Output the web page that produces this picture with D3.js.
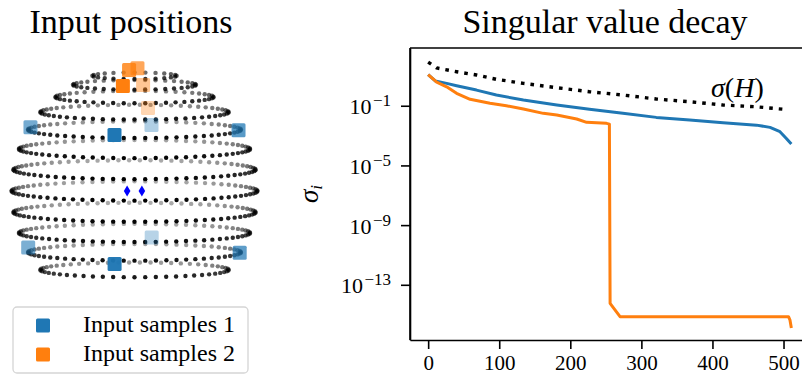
<!DOCTYPE html>
<meta charset="utf-8">
<style>
  body { margin: 0; background: #fff; }
  text { font-family: "Liberation Serif", serif; fill: #000; }
  .tick text { font-size: 22px; }
  .axis path, .axis line { stroke: #000; stroke-width: 1.6; }
</style>
<svg width="802" height="377"></svg>
<script src="https://cdn.jsdelivr.net/npm/d3@7/dist/d3.min.js"></script>
<script>

// measurement grid: one ring per elevation (degrees), points per ring
var ringElev = [70, 60, 50, 40, 30, 20, 10, 0, -10, -20, -30, -40];
var ringCount = [24, 36, 46, 55, 62, 68, 71, 72, 71, 68, 62, 55];

// input samples, [azimuth, elevation] in degrees
var samples1 = [[-11, 31.5], [-101, 30.5], [79, 30.5], [171, 28], [-11, -32], [-101, -28.3], [79, -29.4], [171, -26.7]];
var samples2 = [[-12, 63], [-25, 84], [170, 82], [173, 55], [172, 38]];
// ears, cartesian (x right, y front, z up), unit sphere radius
var ears = [[-0.06, 0, 0], [0.06, 0, 0]];

// singular values, index -> sigma
var idxH = [0, 12, 40, 68, 96, 134, 181, 227, 274, 321, 368, 415, 462, 505];
var sigmaH = [85.1, 33.9, 19.1, 11.5, 5.89, 3.16, 1.62, 0.871, 0.525, 0.282, 0.186, 0.112, 0.0851, 0.055];

var idx1 = [0, 10, 26, 40, 68, 96, 134, 181, 227, 274, 321, 368, 415, 462, 481, 495, 504, 511];
var sigma1 = [12.0, 4.57, 3.16, 2.19, 1.12, 0.525, 0.24, 0.111, 0.0575, 0.0309, 0.0166, 0.011, 0.00724, 0.00501, 0.00355, 0.00182, 0.000646, 0.000269];

var idx2 = [0, 12, 26, 40, 59, 87, 110, 134, 162, 181, 209, 223, 251, 255, 256, 270, 507, 509, 511];
var sigma2 = [12.0, 3.8, 1.86, 0.676, 0.269, 0.145, 0.1, 0.0603, 0.0309, 0.024, 0.0129, 0.00776, 0.00661, 0.00589, 5.75e-15, 7.24e-16, 7.24e-16, 4.47e-16, 1.26e-16];

var xTicks = [0, 100, 200, 300, 400, 500];
var yTicks = [1e-1, 1e-5, 1e-9, 1e-13];

var svg = d3.select("svg");
var blue = "#1f77b4", orange = "#ff7f0e";

// ---------- left: input positions ----------
var cx = 134.5, cy = 191, R = 123, view = 4.5 * Math.PI / 180;
var rad = Math.PI / 180;

function project(p) {
  var X = p[0], Y = p[1], Z = p[2];
  return {
    x: cx + R * X,
    y: cy - R * (Z * Math.cos(view) - Y * Math.sin(view)),
    d: Y * Math.cos(view) + Z * Math.sin(view)
  };
}
function sph(az, el) {
  return [Math.cos(el * rad) * Math.sin(az * rad), Math.cos(el * rad) * Math.cos(az * rad), Math.sin(el * rad)];
}
function shade(pts) {
  var ext = d3.extent(pts, function(p) { return p.d; });
  pts.forEach(function(p) { p.a = 1 - 0.68 * (ext[1] - p.d) / (ext[1] - ext[0]); });
  return pts.sort(function(a, b) { return a.d - b.d; });
}

var grid = [];
ringElev.forEach(function(el, i) {
  d3.range(ringCount[i]).forEach(function(k) {
    grid.push(project(sph(360 * k / ringCount[i], el)));
  });
});
shade(grid);

var left = svg.append("g");
left.selectAll("circle.grid")
  .data(grid)
  .enter().append("circle")
  .attr("cx", function(d) { return d.x; })
  .attr("cy", function(d) { return d.y; })
  .attr("r", 2.2)
  .attr("fill", "#000")
  .attr("opacity", function(d) { return d.a; });

function drawSamples(list, color) {
  var pts = shade(list.map(function(s) { return project(sph(s[0], s[1])); }));
  left.selectAll(null)
    .data(pts)
    .enter().append("rect")
    .attr("x", function(d) { return d.x - 7; })
    .attr("y", function(d) { return d.y - 7; })
    .attr("width", 14).attr("height", 14)
    .attr("rx", 1.5)
    .attr("fill", color)
    .attr("opacity", function(d) { return d.a; });
}
drawSamples(samples1, blue);
drawSamples(samples2, orange);

left.selectAll("path.ear")
  .data(ears.map(project))
  .enter().append("path")
  .attr("d", "M0,-5.5L3.3,0L0,5.5L-3.3,0Z")
  .attr("transform", function(d) { return "translate(" + d.x + "," + d.y + ")"; })
  .attr("fill", "#0000ff");

svg.append("text")
  .attr("x", 131).attr("y", 33)
  .attr("text-anchor", "middle")
  .style("font-size", "34px")
  .text("Input positions");

// legend
var lg = svg.append("g");
lg.append("rect")
  .attr("x", 13).attr("y", 307).attr("width", 235).attr("height", 66)
  .attr("rx", 4).attr("fill", "#fff").attr("stroke", "#d5d5d5").attr("stroke-width", 1.3);
[["Input samples 1", blue], ["Input samples 2", orange]].forEach(function(e, i) {
  lg.append("rect")
    .attr("x", 36).attr("y", 318.5 + i * 29).attr("width", 14).attr("height", 14)
    .attr("rx", 1.5).attr("fill", e[1]);
  lg.append("text")
    .attr("x", 83).attr("y", 332 + i * 29)
    .style("font-size", "24px")
    .text(e[0]);
});

// ---------- right: singular value decay ----------
var m = { left: 410, top: 48, bottom: 340, right: 809.5 };

var x = d3.scaleLinear().domain([-25.55, 536.55]).range([m.left, m.right]);
var y = d3.scaleLog().domain([Math.pow(10, -16.70), Math.pow(10, 2.87)]).range([m.bottom, m.top]);

var xAxis = svg.append("g")
  .attr("class", "axis")
  .attr("transform", "translate(0," + m.bottom + ")")
  .call(d3.axisBottom(x).tickValues(xTicks).tickSize(9).tickSizeOuter(0).tickPadding(6));
xAxis.selectAll(".tick text").style("font-size", "21px");

var yAxis = svg.append("g")
  .attr("class", "axis")
  .attr("transform", "translate(" + m.left + ",0)")
  .call(d3.axisLeft(y).tickValues(yTicks).tickSize(9).tickSizeOuter(0).tickPadding(10).tickFormat(function() { return ""; }));

yAxis.selectAll(".tick text").each(function(d) {
  var t = d3.select(this).attr("dy", "8px");
  t.append("tspan").text("10");
  t.append("tspan").attr("dy", "-8px").attr("dx", "1.5px").style("font-size", "17px").text("\u2212" + Math.round(-Math.log10(d)));
});

svg.append("line")
  .attr("x1", m.left).attr("x2", m.right).attr("y1", m.top).attr("y2", m.top)
  .attr("stroke", "#000").attr("stroke-width", 1.6);
svg.append("line")
  .attr("x1", m.left).attr("x2", m.left).attr("y1", m.top).attr("y2", m.bottom)
  .attr("stroke", "#000").attr("stroke-width", 1.6);

var line = d3.line()
  .x(function(d) { return x(d[0]); })
  .y(function(d) { return y(d[1]); });

svg.append("path")
  .datum(d3.zip(idxH, sigmaH))
  .attr("d", line)
  .attr("fill", "none").attr("stroke", "#000").attr("stroke-width", 3.4)
  .attr("stroke-dasharray", "3.6,6");

svg.append("path")
  .datum(d3.zip(idx1, sigma1))
  .attr("d", line)
  .attr("fill", "none").attr("stroke", blue).attr("stroke-width", 3)
  .attr("stroke-linejoin", "round");

svg.append("path")
  .datum(d3.zip(idx2, sigma2))
  .attr("d", line)
  .attr("fill", "none").attr("stroke", orange).attr("stroke-width", 3)
  .attr("stroke-linejoin", "round");

var hl = svg.append("text").attr("x", 711).attr("y", 97).style("font-size", "28px");
hl.append("tspan").style("font-style", "italic").text("\u03c3");
hl.append("tspan").text("(");
hl.append("tspan").style("font-style", "italic").text("H");
hl.append("tspan").text(")");

var yl = svg.append("text")
  .attr("transform", "translate(318,194) rotate(-90)")
  .attr("text-anchor", "middle")
  .style("font-size", "27px");
yl.append("tspan").style("font-style", "italic").text("\u03c3");
yl.append("tspan").attr("dy", "0.25em").style("font-size", "17px").style("font-style", "italic").text("i");

svg.append("text")
  .attr("x", 605).attr("y", 33)
  .attr("text-anchor", "middle")
  .style("font-size", "34px")
  .text("Singular value decay");

</script>
